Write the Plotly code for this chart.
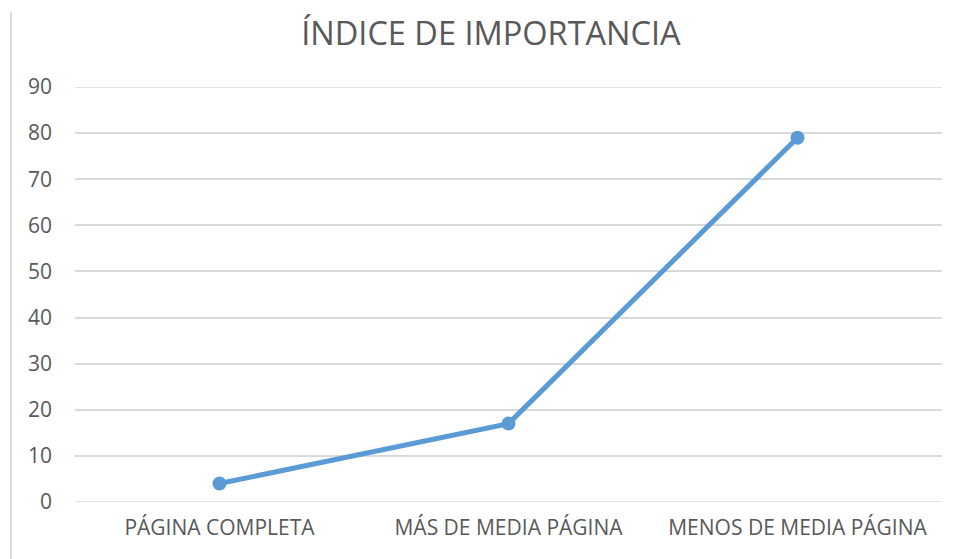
import plotly.graph_objects as go

# Data
categories = ["PÁGINA COMPLETA", "MÁS DE MEDIA PÁGINA", "MENOS DE MEDIA PÁGINA"]
values = [4, 17, 79]
y_ticks = [0, 10, 20, 30, 40, 50, 60, 70, 80, 90]

LINE_COLOR = "#5B9BD5"
TEXT_COLOR = "#595959"
GRID_COLOR = "#D9D9D9"
FONT = "'Open Sans', sans-serif"

fig = go.Figure()

fig.add_trace(go.Scatter(
    x=categories,
    y=values,
    mode="lines+markers",
    line=dict(color=LINE_COLOR, width=5),
    marker=dict(color=LINE_COLOR, size=14),
    showlegend=False,
))

fig.update_layout(
    width=957,
    height=559,
    margin=dict(l=75, r=15, t=87, b=57),
    paper_bgcolor="white",
    plot_bgcolor="white",
    font=dict(family=FONT, color=TEXT_COLOR, size=21),
    title=dict(
        text="ÍNDICE DE IMPORTANCIA",
        x=0.513,
        xanchor="center",
        y=0.94,
        yanchor="middle",
        font=dict(size=32.5, color=TEXT_COLOR, family=FONT),
    ),
    xaxis=dict(
        type="category",
        range=[-0.5, 2.5],
        showgrid=False,
        showline=False,
        zeroline=False,
        ticks="",
        ticklabelstandoff=11,
        tickfont=dict(size=21, color=TEXT_COLOR),
    ),
    yaxis=dict(
        range=[0, 90],
        tickvals=y_ticks,
        showgrid=True,
        gridcolor=GRID_COLOR,
        gridwidth=1.5,
        zeroline=False,
        showline=False,
        ticks="",
        ticklabelstandoff=22,
        tickfont=dict(size=21, color=TEXT_COLOR),
    ),
    shapes=[
        # edge gridlines (0 and 90) that plotly drops at the range limits
        dict(type="line", xref="paper", yref="y", x0=0, x1=1, y0=0, y1=0,
             line=dict(color=GRID_COLOR, width=1.5), layer="below"),
        dict(type="line", xref="paper", yref="y", x0=0, x1=1, y0=90, y1=90,
             line=dict(color=GRID_COLOR, width=1.5), layer="below"),
        # light chart-area border on the left edge
        dict(type="line", xref="paper", yref="paper",
             x0=-0.0738, x1=-0.0738, y0=-0.2, y1=1.18,
             line=dict(color=GRID_COLOR, width=2)),
    ],
)

# drop the browser's default body margin so the figure sits at (0, 0)
fig.write_html(
    "out.html",
    config={"displayModeBar": False},
    post_script="document.body.style.margin='0';",
)
